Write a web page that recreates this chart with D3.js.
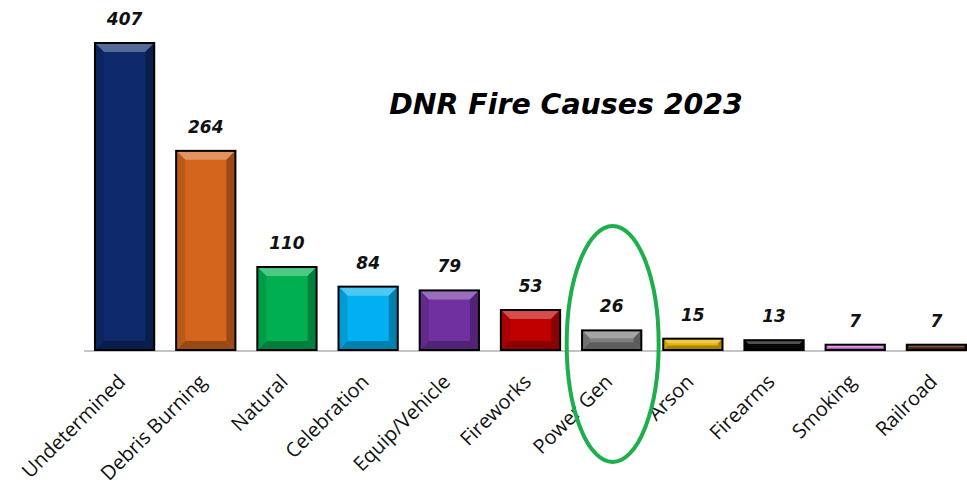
<!DOCTYPE html>
<html>
<head>
<meta charset="utf-8">
<script src="https://cdn.jsdelivr.net/npm/d3@7"></script>
<style>
  body { margin: 0; background: #fff; }
  svg { display: block; }
</style>
</head>
<body>
<div id="chart"></div>
<script>
var causes = ["Undetermined", "Debris Burning", "Natural", "Celebration", "Equip/Vehicle",
              "Fireworks", "Power Gen", "Arson", "Firearms", "Smoking", "Railroad"];
var counts = [407, 264, 110, 84, 79, 53, 26, 15, 13, 7, 7];
var barColors = ["#0e2a6c", "#d4651c", "#00b050", "#00b0f0", "#7030a0",
                 "#c00000", "#808080", "#e8b400", "#050505", "#e07ee0", "#5a2e10"];
var chartTitle = "DNR Fire Causes 2023";
var circled = "Power Gen";

var cfg = { w: 967, h: 489, left: 84, rangeEnd: 977, base: 350, top: 43 };

var data = causes.map(function(c, i) { return { cause: c, n: counts[i], color: barColors[i] }; });

var svg = d3.select("#chart").append("svg")
  .attr("width", cfg.w)
  .attr("height", cfg.h);

var x = d3.scaleBand()
  .domain(causes)
  .range([cfg.left, cfg.rangeEnd])
  .paddingInner(0.27)
  .paddingOuter(0.135);

var y = d3.scaleLinear()
  .domain([0, 407])
  .range([cfg.base, cfg.top]);

// baseline
svg.append("line")
  .attr("x1", cfg.left).attr("x2", cfg.w)
  .attr("y1", cfg.base + 1).attr("y2", cfg.base + 1)
  .attr("stroke", "#c4c4c4")
  .attr("stroke-width", 2);

// bars with a bevel look
var bars = svg.append("g").selectAll("g.bar")
  .data(data)
  .enter().append("g")
  .attr("class", "bar");

bars.each(function(d) {
  var g = d3.select(this);
  var x0 = x(d.cause), x1 = x0 + x.bandwidth();
  var y0 = y(d.n), y1 = y(0);
  var h = y1 - y0;
  var b = Math.min(9, h / 2.5);
  var c = d3.color(d.color);
  var light = d3.interpolateRgb(d.color, "#ffffff")(0.3);
  var dark = c.darker(0.9).formatHex();
  var mid = c.darker(0.35).formatHex();

  g.append("rect")
    .attr("x", x0).attr("y", y0)
    .attr("width", x1 - x0).attr("height", h)
    .attr("fill", d.color);
  // top bevel
  g.append("path")
    .attr("d", "M" + x0 + "," + y0 + "L" + x1 + "," + y0 + "L" + (x1 - b) + "," + (y0 + b) +
               "L" + (x0 + b) + "," + (y0 + b) + "Z")
    .attr("fill", light);
  // bottom bevel
  g.append("path")
    .attr("d", "M" + x0 + "," + y1 + "L" + x1 + "," + y1 + "L" + (x1 - b) + "," + (y1 - b) +
               "L" + (x0 + b) + "," + (y1 - b) + "Z")
    .attr("fill", dark);
  // sides
  g.append("path")
    .attr("d", "M" + x0 + "," + y0 + "L" + (x0 + b) + "," + (y0 + b) + "L" + (x0 + b) + "," + (y1 - b) +
               "L" + x0 + "," + y1 + "Z")
    .attr("fill", mid);
  g.append("path")
    .attr("d", "M" + x1 + "," + y0 + "L" + (x1 - b) + "," + (y0 + b) + "L" + (x1 - b) + "," + (y1 - b) +
               "L" + x1 + "," + y1 + "Z")
    .attr("fill", dark);
  g.append("rect")
    .attr("x", x0).attr("y", y0)
    .attr("width", x1 - x0).attr("height", h)
    .attr("fill", "none")
    .attr("stroke", "#000")
    .attr("stroke-width", 2);
});

// value labels
svg.append("g").selectAll("text")
  .data(data)
  .enter().append("text")
  .attr("x", function(d) { return x(d.cause) + x.bandwidth() / 2; })
  .attr("y", function(d) { return y(d.n) - 18; })
  .attr("text-anchor", "middle")
  .style("font-family", "'DejaVu Sans', Verdana, sans-serif")
  .style("font-weight", "bold")
  .style("font-style", "italic")
  .style("font-size", "17px")
  .style("fill", "#111")
  .text(function(d) { return d.n; });

// category labels, rotated
svg.append("g").selectAll("text")
  .data(data)
  .enter().append("text")
  .attr("transform", function(d) {
    return "translate(" + (x(d.cause) + x.bandwidth() / 2 + 2) + "," + (cfg.base + 33) + ") rotate(-45)";
  })
  .attr("text-anchor", "end")
  .style("font-family", "'Open Sans', 'Liberation Sans', sans-serif")
  .style("font-size", "20px")
  .style("fill", "#111")
  .text(function(d) { return d.cause; });

// title
svg.append("text")
  .attr("x", 566)
  .attr("y", 114)
  .attr("text-anchor", "middle")
  .style("font-family", "'DejaVu Sans', Verdana, sans-serif")
  .style("font-weight", "bold")
  .style("font-style", "italic")
  .style("font-size", "28.4px")
  .style("fill", "#000")
  .text(chartTitle);

// highlight ellipse
svg.append("ellipse")
  .attr("cx", x(circled) + x.bandwidth() / 2 + 1)
  .attr("cy", 344)
  .attr("rx", 46)
  .attr("ry", 118)
  .attr("fill", "none")
  .attr("stroke", "#1daf4c")
  .attr("stroke-width", 4);
</script>
</body>
</html>
